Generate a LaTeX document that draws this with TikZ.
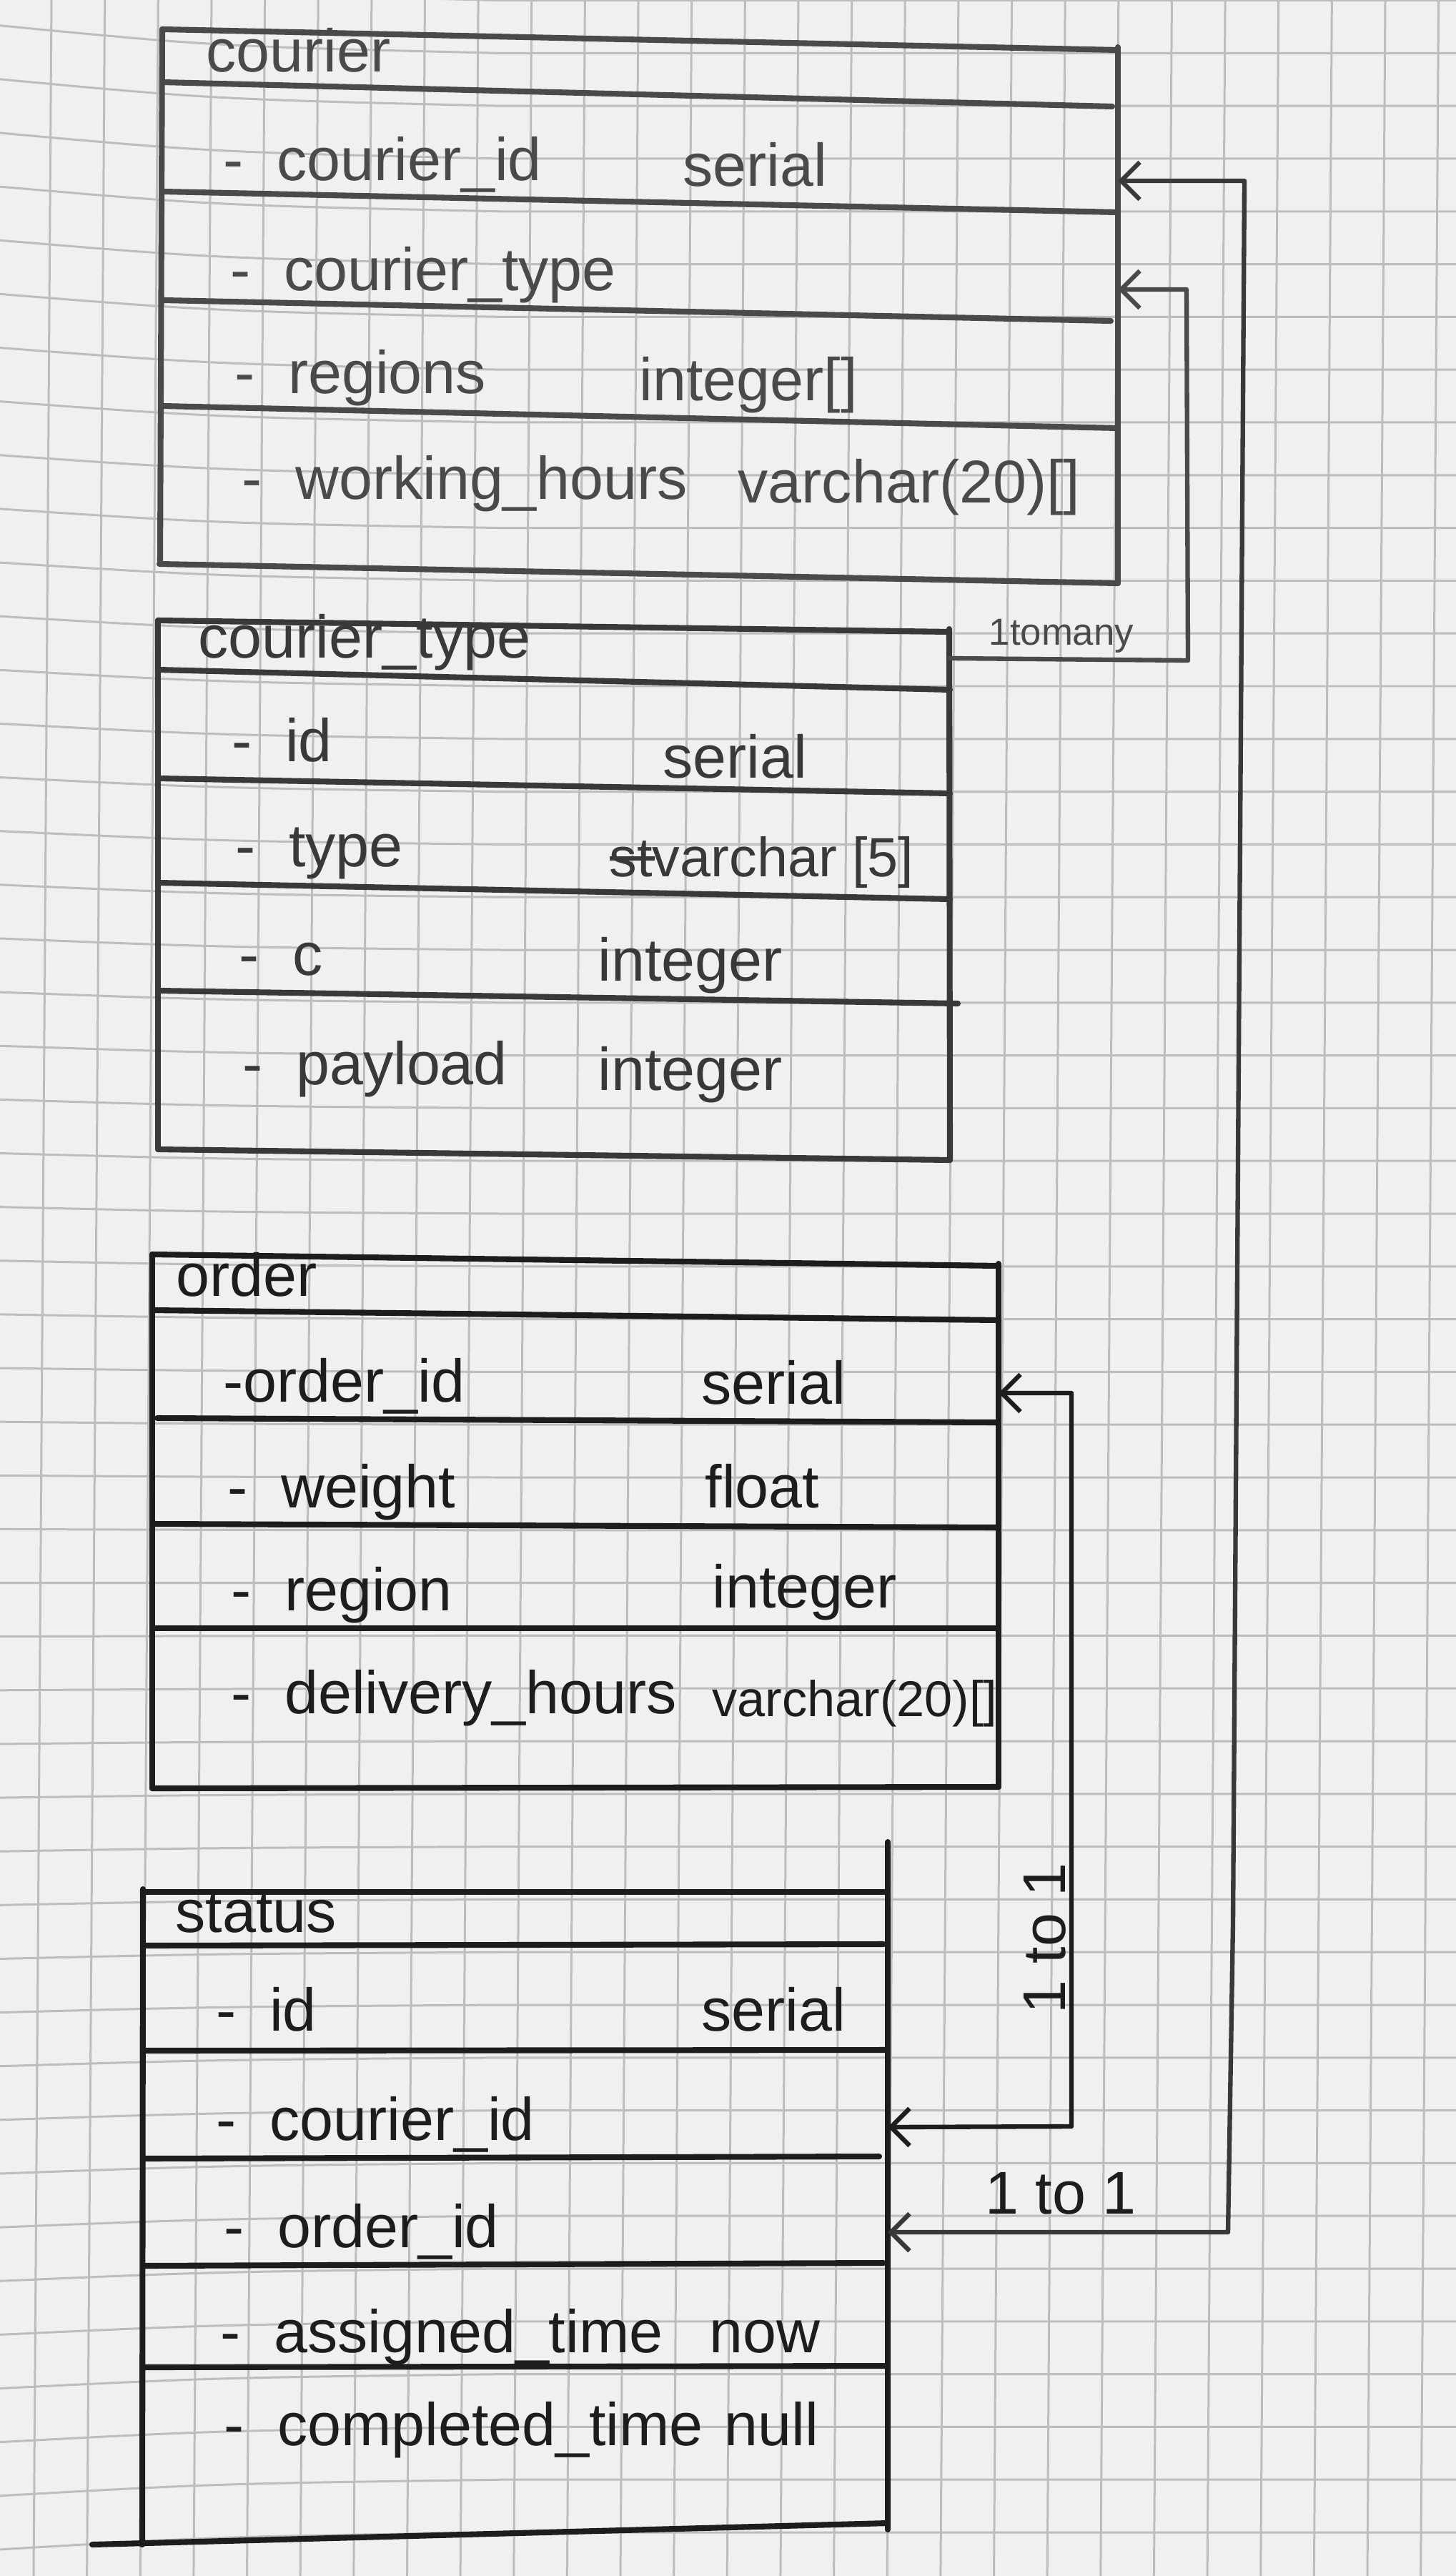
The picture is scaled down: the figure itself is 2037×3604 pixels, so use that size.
\documentclass[tikz,border=0pt]{standalone}
\usepackage{fontspec}
\setmainfont{Liberation Sans}
\usetikzlibrary{arrows.meta}

\definecolor{paper}{HTML}{F0F0EE}
\definecolor{gridc}{HTML}{BDBDBD}
\definecolor{inkA}{HTML}{4A4A4A}
\definecolor{inkB}{HTML}{393939}
\definecolor{inkC}{HTML}{1D1D1D}

\newcommand{\attrdash}{-\hspace{0.55em}}
% letters struck through with a single stroke
\newcommand{\struck}[1]{\rlap{\rule[0.3em]{0.82em}{0.07em}}#1}

\tikzset{
  gridline/.style={draw=gridc, line width=0.85pt},
  tableline/.style={line width=2.3pt, line cap=round, line join=round},
  link/.style={line width=1.8pt, line cap=round, line join=round},
  txt/.style={anchor=base west, inner sep=0pt, yshift=0.09cm, font=\fontsize{24}{28}\selectfont},
  smalltxt/.style={txt, font=\fontsize{20}{24}\selectfont},
  note/.style={inner sep=0pt, font=\fontsize{24}{28}\selectfont},
  >={Straight Barb[length=0.26cm,width=0.52cm]}
}

\begin{document}
\begin{tikzpicture}[x=0.01cm,y=-0.01cm]
\useasboundingbox (0,0) rectangle (2037,3604);
\fill[paper] (0,0) rectangle (2037,3604);

% squared paper
\foreach \k in {0,...,27}{
  \draw[gridline] ({72+74.64*\k},0) -- ({47+74.64*\k},3604);
}
\foreach \k in {-3,...,46}{
  \pgfmathsetmacro{\yy}{222+73.8*\k}
  \pgfmathsetmacro{\frac}{\yy/3604}
  \pgfmathsetmacro{\dl}{-40+65*\frac}
  \draw[gridline] (0,{\yy+\dl}) .. controls (300,{\yy+0.25*\dl}) .. (700,\yy) -- (2037,\yy);
}

% ---------------- courier ----------------
\begin{scope}[draw=inkA, text=inkA]
  \draw[tableline] (227,41) -- (1564,70);
  \draw[tableline] (227,115) -- (1556,149);
  \draw[tableline] (227,268) -- (1564,297);
  \draw[tableline] (229,420) -- (1554,449);
  \draw[tableline] (227,568) -- (1564,599);
  \draw[tableline] (223,789) -- (1564,816);
  \draw[tableline] (227,41) -- (224,789);
  \draw[tableline] (1564,66) -- (1564,816);
  \node[txt] (c-head) at (288,110) {courier};
  \node[txt] (c-id) at (312,262) {\attrdash courier\_id};
  \node[txt] (c-id-t) at (955,270) {serial};
  \node[txt] (c-type) at (322,416) {\attrdash courier\_type};
  \node[txt] (c-reg) at (328,560) {\attrdash regions};
  \node[txt] (c-reg-t) at (894,570) {integer[]};
  \node[txt] (c-wh) at (338,708) {\attrdash working\_hours};
  \node[txt] (c-wh-t) at (1032,713) {varchar(20)[]};
\end{scope}
\coordinate (c-id-port) at (1564,253);
\coordinate (c-type-port) at (1564,405);

% ---------------- courier_type ----------------
\begin{scope}[draw=inkB, text=inkB]
  \draw[tableline] (221,868) -- (1328,884);
  \draw[tableline] (221,937) -- (1329,965);
  \draw[tableline] (221,1089) -- (1329,1110);
  \draw[tableline] (221,1235) -- (1329,1258);
  \draw[tableline] (221,1386) -- (1340,1404);
  \draw[tableline] (221,1608) -- (1329,1623);
  \draw[tableline] (221,868) -- (221,1608);
  \draw[tableline] (1328,880) -- (1329,1623);
  \node[txt] (t-head) at (277,930) {courier\_type};
  \node[txt] (t-id) at (324,1075) {\attrdash id};
  \node[txt] (t-id-t) at (927,1098) {serial};
  \node[txt] (t-type) at (329,1222) {\attrdash type};
  \node[txt, font=\fontsize{22}{26}\selectfont] (t-type-t) at (852,1236) {\struck{st}varchar [5]};
  \node[txt] (t-c) at (334,1373) {\attrdash c};
  \node[txt] (t-c-t) at (836,1381) {integer};
  \node[txt] (t-pl) at (339,1526) {\attrdash payload};
  \node[txt] (t-pl-t) at (836,1534) {integer};
\end{scope}
\coordinate (t-port) at (1329,921);

% ---------------- order ----------------
\begin{scope}[draw=inkC, text=inkC]
  \draw[tableline] (213,1755) -- (1397,1771);
  \draw[tableline] (213,1833) -- (1397,1847);
  \draw[tableline] (220,1984) -- (1393,1990);
  \draw[tableline] (213,2132) -- (1393,2137);
  \draw[tableline] (216,2278) -- (1397,2278);
  \draw[tableline] (213,2502) -- (1397,2500);
  \draw[tableline] (213,1755) -- (213,2502);
  \draw[tableline] (1397,1768) -- (1397,2500);
  \node[txt] (o-head) at (246,1822) {order};
  \node[txt] (o-id) at (312,1970) {-order\_id};
  \node[txt] (o-id-t) at (981,1973) {serial};
  \node[txt] (o-w) at (318,2118) {\attrdash weight};
  \node[txt] (o-w-t) at (986,2118) {float};
  \node[txt] (o-reg) at (323,2262) {\attrdash region};
  \node[txt] (o-reg-t) at (996,2258) {integer};
  \node[txt] (o-dh) at (323,2406) {\attrdash delivery\_hours};
  \node[smalltxt] (o-dh-t) at (996,2410) {varchar(20)[]};
\end{scope}
\coordinate (o-id-port) at (1397,1949);

% ---------------- status ----------------
\begin{scope}[draw=inkC, text=inkC]
  \draw[tableline] (200,2647) -- (1242,2647);
  \draw[tableline] (200,2722) -- (1236,2720);
  \draw[tableline] (200,2869) -- (1242,2868);
  \draw[tableline] (200,3020) -- (1230,3017);
  \draw[tableline] (200,3170) -- (1236,3166);
  \draw[tableline] (200,3312) -- (1242,3310);
  \draw[tableline] (129,3560) -- (1242,3530);
  \draw[tableline] (200,2643) -- (199,3560);
  \draw[tableline] (1242,2577) -- (1242,3539);
  \node[txt] (s-head) at (245,2712) {status};
  \node[txt] (s-id) at (302,2850) {\attrdash id};
  \node[txt] (s-id-t) at (981,2850) {serial};
  \node[txt] (s-cid) at (302,3003) {\attrdash courier\_id};
  \node[txt] (s-oid) at (313,3153) {\attrdash order\_id};
  \node[txt] (s-at) at (308,3300) {\attrdash assigned\_time};
  \node[txt] (s-at-t) at (992,3300) {now};
  \node[txt] (s-ct) at (313,3430) {\attrdash completed\_time};
  \node[txt] (s-ct-t) at (1013,3430) {null};
\end{scope}
\coordinate (s-cid-port) at (1242,2976);
\coordinate (s-oid-port) at (1242,3123);

% ---------------- relations ----------------
% courier_type 1 -> many courier
\draw[link, draw=inkA, ->] (t-port) -- (1662,924) -- (1660,405) -- (c-type-port);
\node[anchor=base west, inner sep=0pt, text=inkA, font=\fontsize{15}{18}\selectfont] (lbl-many) at (1383,903) {1tomany};

% order.order_id <-> status.courier_id
\draw[link, draw=inkC, <->] (o-id-port) -- (1499,1949) -- (1499,2975) -- (s-cid-port);
\node[note, text=inkC, rotate=90] (lbl-oc) at (1462,2712) {1 to 1};

% courier.courier_id <-> status.order_id
\draw[link, draw=inkB, <->] (c-id-port) -- (1741,253) -- (1725,2690) -- (1718,3123) -- (s-oid-port);
\node[note, text=inkC, anchor=base] (lbl-co) at (1484,3097) {1 to 1};

\end{tikzpicture}
\end{document}
